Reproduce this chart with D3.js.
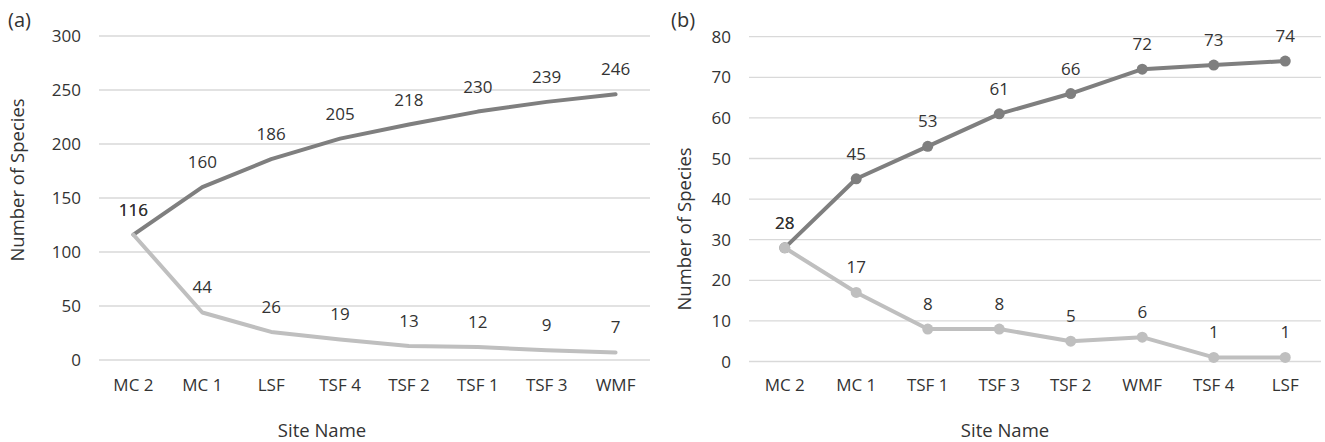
<!DOCTYPE html>
<html><head><meta charset="utf-8">
<script src="https://cdn.jsdelivr.net/npm/d3@7"></script>
<style>
body{margin:0;background:#fff;}
svg text{font-family:"Open Sans",sans-serif;fill:#333333;}
</style></head>
<body>
<svg id="c" width="1325" height="442"></svg>
<script>
const catsA = ["MC 2","MC 1","LSF","TSF 4","TSF 2","TSF 1","TSF 3","WMF"];
const darkA = [116,160,186,205,218,230,239,246];
const lightA = [116,44,26,19,13,12,9,7];
const ticksA = [0,50,100,150,200,250,300];

const catsB = ["MC 2","MC 1","TSF 1","TSF 3","TSF 2","WMF","TSF 4","LSF"];
const darkB = [28,45,53,61,66,72,73,74];
const lightB = [28,17,8,8,5,6,1,1];
const ticksB = [0,10,20,30,40,50,60,70,80];

const svg = d3.select("#c");
const FS = 17;
const TFS = 18.5;

function panel(o){
  const g = svg.append("g");
  const x = d3.scaleBand().domain(o.cats).range([o.x0,o.x1]);
  const y = d3.scaleLinear().domain([0,o.max]).range([o.y0,o.y1]);
  const cx = c => x(c)+x.bandwidth()/2;
  g.selectAll(".gl").data(o.ticks).join("line")
    .attr("x1",o.x0).attr("x2",o.x1).attr("y1",d=>y(d)).attr("y2",d=>y(d))
    .attr("stroke","#d9d9d9").attr("stroke-width",1.3);
  g.selectAll(".yt").data(o.ticks).join("text")
    .attr("x",o.ytx).attr("y",d=>y(d)+6).attr("text-anchor","end")
    .attr("font-size",FS).text(d=>d);
  g.selectAll(".xt").data(o.cats).join("text")
    .attr("x",d=>cx(d)).attr("y",391).attr("text-anchor","middle")
    .attr("font-size",FS).text(d=>d);
  g.append("text").attr("x",o.xtitleX).attr("y",437).attr("text-anchor","middle")
    .attr("font-size",TFS).text("Site Name");
  g.append("text").attr("transform",`translate(${o.ytitleX},${o.ytitleY}) rotate(-90)`)
    .attr("text-anchor","middle").attr("font-size",TFS).text("Number of Species");
  g.append("text").attr("x",o.lx).attr("y",27).attr("font-size",20).text(o.letter);
  const line = d3.line().x((d,i)=>cx(o.cats[i])).y(d=>y(d));
  const series = [{v:o.dark,c:"#7f7f7f"},{v:o.light,c:"#bfbfbf"}];
  series.forEach(s=>{
    g.append("path").attr("d",line(s.v)).attr("fill","none")
      .attr("stroke",s.c).attr("stroke-width",4).attr("stroke-linejoin","round").attr("stroke-linecap","round");
    if(o.markers){
      g.selectAll(null).data(s.v).join("circle")
        .attr("cx",(d,i)=>cx(o.cats[i])).attr("cy",d=>y(d)).attr("r",5.5).attr("fill",s.c);
    }
  });
  series.forEach(s=>{
    g.selectAll(null).data(s.v).join("text")
      .attr("x",(d,i)=>cx(o.cats[i])).attr("y",d=>y(d)-19).attr("text-anchor","middle")
      .attr("font-size",FS).text(d=>d);
  });
}

panel({cats:catsA,dark:darkA,light:lightA,ticks:ticksA,max:300,
  x0:99,x1:650,y0:360,y1:36,ytx:81,ytitleX:24,ytitleY:180,xtitleX:322,lx:8,letter:"(a)",markers:false});
panel({cats:catsB,dark:darkB,light:lightB,ticks:ticksB,max:80,
  x0:749,x1:1321,y0:361.5,y1:36.7,ytx:731,ytitleX:691,ytitleY:229,xtitleX:1005,lx:671,letter:"(b)",markers:true});
</script>
</body></html>
